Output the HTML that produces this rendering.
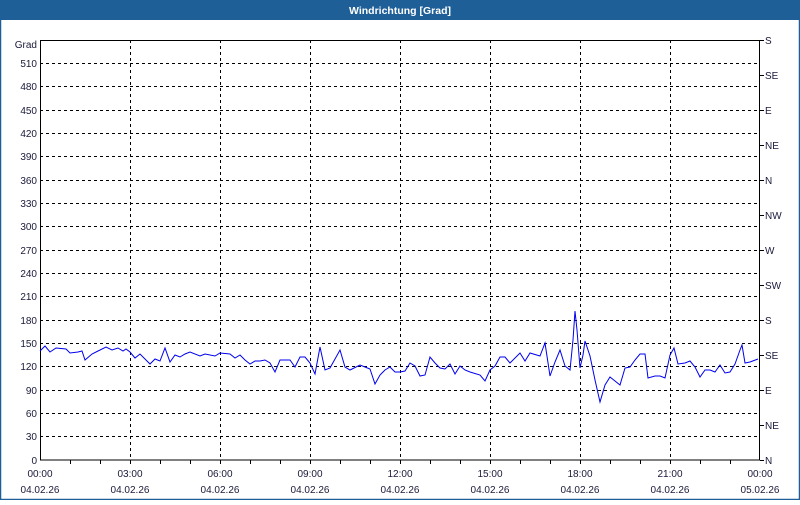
<!DOCTYPE html>
<html><head><meta charset="utf-8"><style>
body{margin:0;width:800px;height:500px;overflow:hidden;background:#fff;font-family:"Liberation Sans",sans-serif}
</style></head><body>
<svg width="800" height="500" xmlns="http://www.w3.org/2000/svg" font-family="Liberation Sans, sans-serif" font-size="10" fill="#1a1a3a">
<rect x="0" y="0" width="800" height="500" fill="#fff"/>
<rect x="0.5" y="0.5" width="799" height="499" fill="none" stroke="#1e5f98" stroke-width="1.5"/>
<rect x="0" y="0" width="800" height="20" fill="#1e5f98"/>
<text x="400" y="14" text-anchor="middle" fill="#fff" font-weight="bold" font-size="10.5">Windrichtung [Grad]</text>
<g stroke="#000" stroke-dasharray="3,3" stroke-width="1">
<line x1="40" x2="760" y1="63.5" y2="63.5"/><line x1="40" x2="760" y1="86.5" y2="86.5"/><line x1="40" x2="760" y1="110.5" y2="110.5"/><line x1="40" x2="760" y1="133.5" y2="133.5"/><line x1="40" x2="760" y1="156.5" y2="156.5"/><line x1="40" x2="760" y1="180.5" y2="180.5"/><line x1="40" x2="760" y1="203.5" y2="203.5"/><line x1="40" x2="760" y1="226.5" y2="226.5"/><line x1="40" x2="760" y1="250.5" y2="250.5"/><line x1="40" x2="760" y1="273.5" y2="273.5"/><line x1="40" x2="760" y1="296.5" y2="296.5"/><line x1="40" x2="760" y1="320.5" y2="320.5"/><line x1="40" x2="760" y1="343.5" y2="343.5"/><line x1="40" x2="760" y1="366.5" y2="366.5"/><line x1="40" x2="760" y1="390.5" y2="390.5"/><line x1="40" x2="760" y1="413.5" y2="413.5"/><line x1="40" x2="760" y1="436.5" y2="436.5"/>
<line x1="130.5" x2="130.5" y1="40" y2="460"/><line x1="220.5" x2="220.5" y1="40" y2="460"/><line x1="310.5" x2="310.5" y1="40" y2="460"/><line x1="400.5" x2="400.5" y1="40" y2="460"/><line x1="490.5" x2="490.5" y1="40" y2="460"/><line x1="580.5" x2="580.5" y1="40" y2="460"/><line x1="670.5" x2="670.5" y1="40" y2="460"/>
</g>
<rect x="40.5" y="40.5" width="719" height="419.5" fill="none" stroke="#000"/>
<g stroke="#000">
<line x1="70.5" x2="70.5" y1="460" y2="464"/><line x1="100.5" x2="100.5" y1="460" y2="464"/><line x1="130.5" x2="130.5" y1="460" y2="464"/><line x1="160.5" x2="160.5" y1="460" y2="464"/><line x1="190.5" x2="190.5" y1="460" y2="464"/><line x1="220.5" x2="220.5" y1="460" y2="464"/><line x1="250.5" x2="250.5" y1="460" y2="464"/><line x1="280.5" x2="280.5" y1="460" y2="464"/><line x1="310.5" x2="310.5" y1="460" y2="464"/><line x1="340.5" x2="340.5" y1="460" y2="464"/><line x1="370.5" x2="370.5" y1="460" y2="464"/><line x1="400.5" x2="400.5" y1="460" y2="464"/><line x1="430.5" x2="430.5" y1="460" y2="464"/><line x1="460.5" x2="460.5" y1="460" y2="464"/><line x1="490.5" x2="490.5" y1="460" y2="464"/><line x1="520.5" x2="520.5" y1="460" y2="464"/><line x1="550.5" x2="550.5" y1="460" y2="464"/><line x1="580.5" x2="580.5" y1="460" y2="464"/><line x1="610.5" x2="610.5" y1="460" y2="464"/><line x1="640.5" x2="640.5" y1="460" y2="464"/><line x1="670.5" x2="670.5" y1="460" y2="464"/><line x1="700.5" x2="700.5" y1="460" y2="464"/><line x1="730.5" x2="730.5" y1="460" y2="464"/>
<line x1="760" x2="764" y1="40.5" y2="40.5"/><line x1="760" x2="764" y1="75.5" y2="75.5"/><line x1="760" x2="764" y1="110.5" y2="110.5"/><line x1="760" x2="764" y1="145.5" y2="145.5"/><line x1="760" x2="764" y1="180.5" y2="180.5"/><line x1="760" x2="764" y1="215.5" y2="215.5"/><line x1="760" x2="764" y1="250.5" y2="250.5"/><line x1="760" x2="764" y1="285.5" y2="285.5"/><line x1="760" x2="764" y1="320.5" y2="320.5"/><line x1="760" x2="764" y1="355.5" y2="355.5"/><line x1="760" x2="764" y1="390.5" y2="390.5"/><line x1="760" x2="764" y1="425.5" y2="425.5"/><line x1="760" x2="764" y1="460.5" y2="460.5"/>
</g>
<g text-anchor="end">
<text x="37" y="48">Grad</text>
<text x="37" y="67">510</text><text x="37" y="90">480</text><text x="37" y="114">450</text><text x="37" y="137">420</text><text x="37" y="160">390</text><text x="37" y="184">360</text><text x="37" y="207">330</text><text x="37" y="230">300</text><text x="37" y="254">270</text><text x="37" y="277">240</text><text x="37" y="300">210</text><text x="37" y="324">180</text><text x="37" y="347">150</text><text x="37" y="370">120</text><text x="37" y="394">90</text><text x="37" y="417">60</text><text x="37" y="440">30</text><text x="37" y="464">0</text>
</g>
<g>
<text x="765" y="44">S</text><text x="765" y="79">SE</text><text x="765" y="114">E</text><text x="765" y="149">NE</text><text x="765" y="184">N</text><text x="765" y="219">NW</text><text x="765" y="254">W</text><text x="765" y="289">SW</text><text x="765" y="324">S</text><text x="765" y="359">SE</text><text x="765" y="394">E</text><text x="765" y="429">NE</text><text x="765" y="464">N</text>
</g>
<g text-anchor="middle">
<text x="40" y="477">00:00</text><text x="40" y="493">04.02.26</text>
<text x="130" y="477">03:00</text><text x="130" y="493">04.02.26</text>
<text x="220" y="477">06:00</text><text x="220" y="493">04.02.26</text>
<text x="310" y="477">09:00</text><text x="310" y="493">04.02.26</text>
<text x="400" y="477">12:00</text><text x="400" y="493">04.02.26</text>
<text x="490" y="477">15:00</text><text x="490" y="493">04.02.26</text>
<text x="580" y="477">18:00</text><text x="580" y="493">04.02.26</text>
<text x="670" y="477">21:00</text><text x="670" y="493">04.02.26</text>
<text x="760" y="477">00:00</text><text x="760" y="493">05.02.26</text>
</g>
<polyline fill="none" stroke="#0000ee" stroke-width="1" points="40,351 45,346 50,352 56,348 66,349 70,353 78,352 82,351 85,360 92,354 98,351 106,347 112,350 118,348 123,351 126,349 130,352 135,358 140,354 148,362 150,364 155,359 160,361 165,348 170,362 175,355 180,357 185,354 190,352 200,356 205,354 215,356 220,353 230,354 235,358 240,355 245,360 250,364 255,361 260,361 265,360 270,363 275,372 280,360 285,360 290,360 295,367 300,357 305,357 310,363 315,374 320,347 325,370 330,368 340,350 345,367 350,370 360,365 365,367 370,369 375,384 380,375 385,370 390,367 395,372 400,372 405,371 410,363 415,366 420,376 425,375 430,357 435,363 440,368 445,369 450,364 455,374 460,366 465,370 470,372 480,375 485,381 490,370 495,366 500,357 505,357 510,363 520,353 525,361 530,353 540,356 545,343 550,376 555,362 560,350 565,366 570,370 573,340 575,311 577,330 580,368 583,355 585,341 590,356 595,380 600,402 605,385 610,377 615,381 620,385 625,368 630,367 635,360 640,354 645,354 648,378 655,376 660,376 665,378 670,355 674,348 678,364 685,363 690,361 695,367 700,377 705,370 710,370 715,372 720,365 725,373 730,372 735,364 740,350 742,345 745,363 750,362 758,359"/>
</svg>
</body></html>
